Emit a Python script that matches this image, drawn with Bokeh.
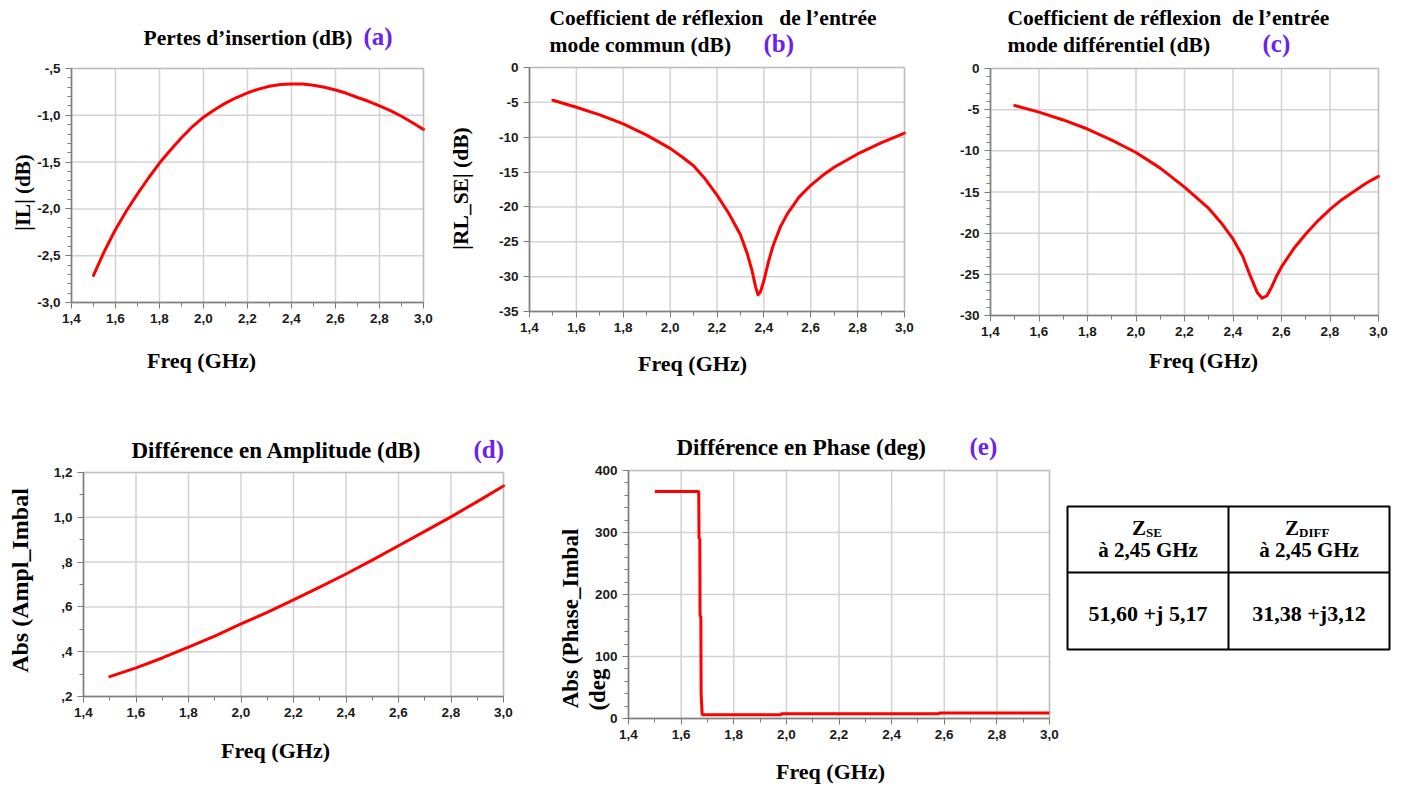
import numpy as np
from bokeh.plotting import figure
from bokeh.models import Range1d, FixedTicker, Label, ColumnDataSource, BoxAnnotation
from bokeh.layouts import row, column
from bokeh.core.properties import value
from bokeh.embed import file_html
from bokeh.resources import INLINE

# ---------------- DATA ----------------
freq_il = [1.50, 1.55, 1.60, 1.65, 1.70, 1.75, 1.80, 1.85, 1.90, 1.95, 2.00, 2.05, 2.10,
           2.15, 2.20, 2.25, 2.30, 2.35, 2.40, 2.45, 2.50, 2.55, 2.60, 2.65, 2.70, 2.75,
           2.80, 2.85, 2.90, 2.95, 3.00]
il_db = [-2.71, -2.45, -2.22, -2.02, -1.84, -1.67, -1.51, -1.37, -1.24, -1.12, -1.02, -0.94,
         -0.87, -0.81, -0.76, -0.72, -0.69, -0.67, -0.665, -0.665, -0.68, -0.70, -0.73,
         -0.765, -0.81, -0.85, -0.90, -0.95, -1.01, -1.08, -1.15]

freq_rl_se = [1.50, 1.60, 1.70, 1.80, 1.90, 2.00, 2.05, 2.10, 2.15, 2.20, 2.25, 2.30, 2.33,
              2.35, 2.365, 2.375, 2.385, 2.40, 2.42, 2.44, 2.47, 2.50, 2.55, 2.60, 2.65,
              2.70, 2.80, 2.90, 3.00]
rl_se_db = [-4.7, -5.7, -6.8, -8.1, -9.7, -11.6, -12.8, -14.1, -16.0, -18.3, -20.9, -24.0,
            -26.8, -29.2, -31.5, -32.6, -32.2, -30.6, -27.8, -25.5, -22.9, -21.0, -18.6,
            -16.9, -15.5, -14.3, -12.4, -10.8, -9.4]

freq_rl_diff = [1.50, 1.60, 1.70, 1.80, 1.90, 2.00, 2.10, 2.20, 2.30, 2.35, 2.40, 2.44, 2.47,
                2.50, 2.52, 2.54, 2.56, 2.58, 2.60, 2.65, 2.70, 2.75, 2.80, 2.85, 2.90,
                2.95, 3.00]
rl_diff_db = [-4.5, -5.3, -6.25, -7.35, -8.7, -10.2, -12.1, -14.4, -17.0, -18.7, -20.7,
              -22.8, -25.1, -27.2, -27.9, -27.6, -26.5, -25.2, -24.1, -21.9, -20.1, -18.5,
              -17.1, -15.9, -14.9, -13.9, -13.1]

freq_ampl = [1.5, 1.6, 1.7, 1.8, 1.9, 2.0, 2.1, 2.2, 2.3, 2.4, 2.5, 2.6, 2.7, 2.8, 2.9, 3.0]
ampl_imbal = [0.289, 0.328, 0.372, 0.42, 0.47, 0.524, 0.576, 0.631, 0.688, 0.747, 0.809,
              0.873, 0.937, 1.002, 1.07, 1.14]

freq_phase = [1.5, 1.667, 1.668, 1.671, 1.672, 1.675, 1.676, 1.68, 1.98, 1.981, 2.58, 2.581, 3.0]
phase_imbal = [366, 366, 290, 290, 165, 165, 40, 6, 6, 7.5, 7.5, 9, 9]

x_ticks = [1.4, 1.6, 1.8, 2.0, 2.2, 2.4, 2.6, 2.8, 3.0]
x_tick_labels = ["1,4", "1,6", "1,8", "2,0", "2,2", "2,4", "2,6", "2,8", "3,0"]
x_minor = [1.5, 1.7, 1.9, 2.1, 2.3, 2.5, 2.7, 2.9]

a_ticks = [-3.0, -2.5, -2.0, -1.5, -1.0, -0.5]
a_tick_labels = ["-3,0", "-2,5", "-2,0", "-1,5", "-1,0", "-,5"]
b_ticks = [-35, -30, -25, -20, -15, -10, -5, 0]
b_tick_labels = ["-35", "-30", "-25", "-20", "-15", "-10", "-5", "0"]
c_ticks = [-30, -25, -20, -15, -10, -5, 0]
c_tick_labels = ["-30", "-25", "-20", "-15", "-10", "-5", "0"]
d_ticks = [0.2, 0.4, 0.6, 0.8, 1.0, 1.2]
d_tick_labels = [",2", ",4", ",6", ",8", "1,0", "1,2"]
e_ticks = [0, 100, 200, 300, 400]
e_tick_labels = ["0", "100", "200", "300", "400"]

titles_a = ["Pertes d\u2019insertion (dB)"]
titles_b = ["Coefficient de r\u00e9flexion \u00a0 de l\u2019entr\u00e9e", "mode commun (dB)"]
titles_c = ["Coefficient de r\u00e9flexion \u00a0de l\u2019entr\u00e9e", "mode diff\u00e9rentiel (dB)"]
titles_d = ["Diff\u00e9rence en Amplitude (dB)"]
titles_e = ["Diff\u00e9rence en Phase (deg)"]
panel_tags = ["(a)", "(b)", "(c)", "(d)", "(e)"]
y_labels = ["|IL| (dB)", "|RL_SE| (dB)", "Abs (Ampl_Imbal", "Abs (Phase_Imbal", "(deg"]
x_label = "Freq (GHz)"

table_symbol = ["Z", "Z"]
table_sub = ["SE", "DIFF"]
table_freq = ["\u00e0 2,45 GHz", "\u00e0 2,45 GHz"]
table_values = ["51,60 +j 5,17", "31,38 +j3,12"]

# ---------------- STYLE / LAYOUT ----------------
RED = "#ff0000"
TAG = "#6a22f2"
GRID = "#d3d3d3"
AXIS = "#7a7a7a"
SERIF = "Liberation Serif"
SANS = "Liberation Sans"


def minor(lo, hi, step, majors):
    vals = np.round(np.arange(lo, hi + step / 2, step), 4)
    return [float(v) for v in vals if all(abs(v - m) > 1e-6 for m in majors)]


def panel(box, inner, xr, yr, yt, ylab, yminor):
    """Figure whose frame covers the whole box; the plot box is drawn with
    fixed-location axes inside it, so all texts can live in the frame."""
    bx0, by0, bx1, by1 = box
    L, T, R, B = inner
    kx = (R - L) / (xr[1] - xr[0])
    ky = (B - T) / (yr[1] - yr[0])
    p = figure(frame_width=bx1 - bx0, frame_height=by1 - by0,
               min_border=0, min_border_left=0, min_border_right=0,
               min_border_top=0, min_border_bottom=0,
               x_range=Range1d(xr[0] - (L - bx0) / kx, xr[1] + (bx1 - R) / kx),
               y_range=Range1d(yr[0] - (by1 - B) / ky, yr[1] + (T - by0) / ky),
               toolbar_location=None, output_backend="svg")
    p.outline_line_color = None
    p.background_fill_color = "white"
    p.border_fill_color = "white"
    p.grid.visible = False
    p.xaxis.fixed_location = yr[0]
    p.xaxis.bounds = xr
    p.yaxis.fixed_location = xr[0]
    p.yaxis.bounds = yr
    p.xaxis.ticker = FixedTicker(ticks=x_ticks, minor_ticks=x_minor)
    p.xaxis.major_label_overrides = dict(zip(x_ticks, x_tick_labels))
    p.yaxis.ticker = FixedTicker(ticks=yt, minor_ticks=yminor)
    p.yaxis.major_label_overrides = dict(zip(yt, ylab))
    for ax in p.axis:
        ax.axis_line_color = AXIS
        ax.axis_line_width = 1.5
        ax.major_tick_line_color = AXIS
        ax.minor_tick_line_color = AXIS
        ax.major_tick_in = 0
        ax.major_tick_out = 6
        ax.minor_tick_in = 0
        ax.minor_tick_out = 4
        ax.major_label_standoff = 5
        ax.major_label_text_font = SANS
        ax.major_label_text_font_style = "bold"
        ax.major_label_text_font_size = "13.5px"
        ax.major_label_text_color = "#1a1a1a"
    # grid lines at the major ticks, limited to the plot box
    p.segment(x0=x_ticks, y0=[yr[0]] * len(x_ticks), x1=x_ticks, y1=[yr[1]] * len(x_ticks),
              line_color=GRID, line_width=1.5)
    p.segment(x0=[xr[0]] * len(yt), y0=yt, x1=[xr[1]] * len(yt), y1=yt,
              line_color=GRID, line_width=1.5)
    p.add_layout(BoxAnnotation(left=xr[0], right=xr[1], bottom=yr[0], top=yr[1],
                               fill_color=None, fill_alpha=0, line_color="#8a8a8a",
                               line_width=1.5))
    return p


def put(p, box, X, Y, text, size, color="black", align="left", angle=0.0,
        font=SERIF, style="bold"):
    bx0, by0, bx1, by1 = box
    p.add_layout(Label(x=X - bx0, y=by1 - Y, x_units="screen", y_units="screen", text=text,
                       text_font=font, text_font_size=f"{size}px", text_font_style=style,
                       text_color=color, text_align=align, text_baseline="middle",
                       angle=angle))


def curve(p, x, y):
    p.line(x, y, line_color=RED, line_width=3, line_join="round", line_cap="round")


XR = (1.4, 3.0)
TS_TOP = 21.5
TS_BOT = 23
TAG_SIZE = 25
XL_SIZE = 22

# ---------------- (a) ----------------
ba = (0, 0, 450, 385)
pa = panel(ba, (71, 68, 423, 302), XR, (-3.0, -0.5), a_ticks, a_tick_labels,
           minor(-3.0, -0.5, 0.1, a_ticks))
curve(pa, freq_il, il_db)
put(pa, ba, 143, 37, titles_a[0], TS_TOP)
put(pa, ba, 363, 36, panel_tags[0], TAG_SIZE, color=TAG)
put(pa, ba, 22, 192, y_labels[0], 21, align="center", angle=np.pi / 2)
put(pa, ba, 201, 360, x_label, XL_SIZE, align="center")

# ---------------- (b) ----------------
bb = (450, 0, 930, 385)
pb = panel(bb, (529, 67, 904, 311), XR, (-35, 0), b_ticks, b_tick_labels, [])
curve(pb, freq_rl_se, rl_se_db)
put(pb, bb, 460, 188, y_labels[1], 21.5, align="center", angle=np.pi / 2)
put(pb, bb, 549, 17, titles_b[0], TS_TOP)
put(pb, bb, 549, 44, titles_b[1], TS_TOP)
put(pb, bb, 763, 43, panel_tags[1], TAG_SIZE, color=TAG)
put(pb, bb, 692, 363, x_label, XL_SIZE, align="center")

# ---------------- (c) ----------------
bc = (930, 0, 1400, 385)
pc = panel(bc, (990, 68, 1378, 315), XR, (-30, 0), c_ticks, c_tick_labels,
           minor(-30, 0, 1, c_ticks))
curve(pc, freq_rl_diff, rl_diff_db)
put(pc, bc, 1007, 17, titles_c[0], TS_TOP)
put(pc, bc, 1007, 44, titles_c[1], TS_TOP)
put(pc, bc, 1262, 43, panel_tags[2], TAG_SIZE, color=TAG)
put(pc, bc, 1203, 360, x_label, XL_SIZE, align="center")

# ---------------- (d) ----------------
bd = (0, 385, 520, 785)
pd_ = panel(bd, (83, 472, 503, 696), XR, (0.2, 1.2), d_ticks, d_tick_labels,
            minor(0.2, 1.2, 0.1, d_ticks))
curve(pd_, freq_ampl, ampl_imbal)
put(pd_, bd, 131, 450, titles_d[0], TS_BOT)
put(pd_, bd, 473, 449, panel_tags[3], TAG_SIZE, color=TAG)
put(pd_, bd, 19, 580, y_labels[2], 24, align="center", angle=np.pi / 2)
put(pd_, bd, 275, 750, x_label, XL_SIZE, align="center")

# ---------------- (e) ----------------
be = (520, 385, 1060, 785)
pe = panel(be, (628, 470, 1049, 718), XR, (0, 400), e_ticks, e_tick_labels,
           minor(0, 400, 20, e_ticks))
pe.line(freq_phase, phase_imbal, line_color=RED, line_width=3)
put(pe, be, 676, 447, titles_e[0], TS_BOT)
put(pe, be, 969, 446, panel_tags[4], TAG_SIZE, color=TAG)
put(pe, be, 570, 618, y_labels[3], 23, align="center", angle=np.pi / 2)
put(pe, be, 597, 689, y_labels[4], 23, align="center", angle=np.pi / 2)
put(pe, be, 830, 771, x_label, XL_SIZE, align="center")

# ---------------- table (pixel-unit frame) ----------------
bt = (1060, 385, 1400, 785)
pt = figure(frame_width=bt[2] - bt[0], frame_height=bt[3] - bt[1],
            min_border=0, min_border_left=0, min_border_right=0,
            min_border_top=0, min_border_bottom=0,
            x_range=Range1d(0, bt[2] - bt[0]), y_range=Range1d(0, bt[3] - bt[1]),
            x_axis_location=None, y_axis_location=None,
            toolbar_location=None, output_backend="svg")
pt.grid.visible = False
pt.outline_line_color = None
pt.background_fill_color = "white"
pt.border_fill_color = "white"


def tx(X):
    return X - bt[0]


def ty(Y):
    return bt[3] - Y


T_L, T_T, T_R, T_B, T_MX, T_MY = 1067, 506, 1389, 649, 1228, 572
pt.quad(left=[tx(T_L)], right=[tx(T_R)], bottom=[ty(T_B)], top=[ty(T_T)], fill_color=None,
        line_color="black", line_width=2)
pt.segment(x0=[tx(T_MX), tx(T_L)], y0=[ty(T_B), ty(T_MY)],
           x1=[tx(T_MX), tx(T_R)], y1=[ty(T_T), ty(T_MY)],
           line_color="black", line_width=2)
cx = [tx(1147.5), tx(1308.5)]
z_off = [-2, -10]
src_sym = ColumnDataSource(dict(x=[c + o for c, o in zip(cx, z_off)], y=[ty(527)] * 2,
                                t=table_symbol, s=table_sub, y2=[ty(532)] * 2))
pt.text(x="x", y="y", text="t", source=src_sym, text_font=value(SERIF),
        text_font_style="bold", text_font_size="21px", text_align="right",
        text_baseline="middle", text_color="black")
pt.text(x="x", y="y2", text="s", source=src_sym, text_font=value(SERIF),
        text_font_style="bold", text_font_size="13px", text_align="left",
        text_baseline="middle", text_color="black")
pt.text(x=cx, y=[ty(549)] * 2, text=table_freq, text_font=value(SERIF),
        text_font_style="bold", text_font_size="21px", text_align="center",
        text_baseline="middle", text_color="black")
pt.text(x=cx, y=[ty(613)] * 2, text=table_values, text_font=value(SERIF),
        text_font_style="bold", text_font_size="22px", text_align="center",
        text_baseline="middle", text_color="black")

layout = column(row(pa, pb, pc), row(pd_, pe, pt))
open("out.html", "w").write(file_html(layout, INLINE))
